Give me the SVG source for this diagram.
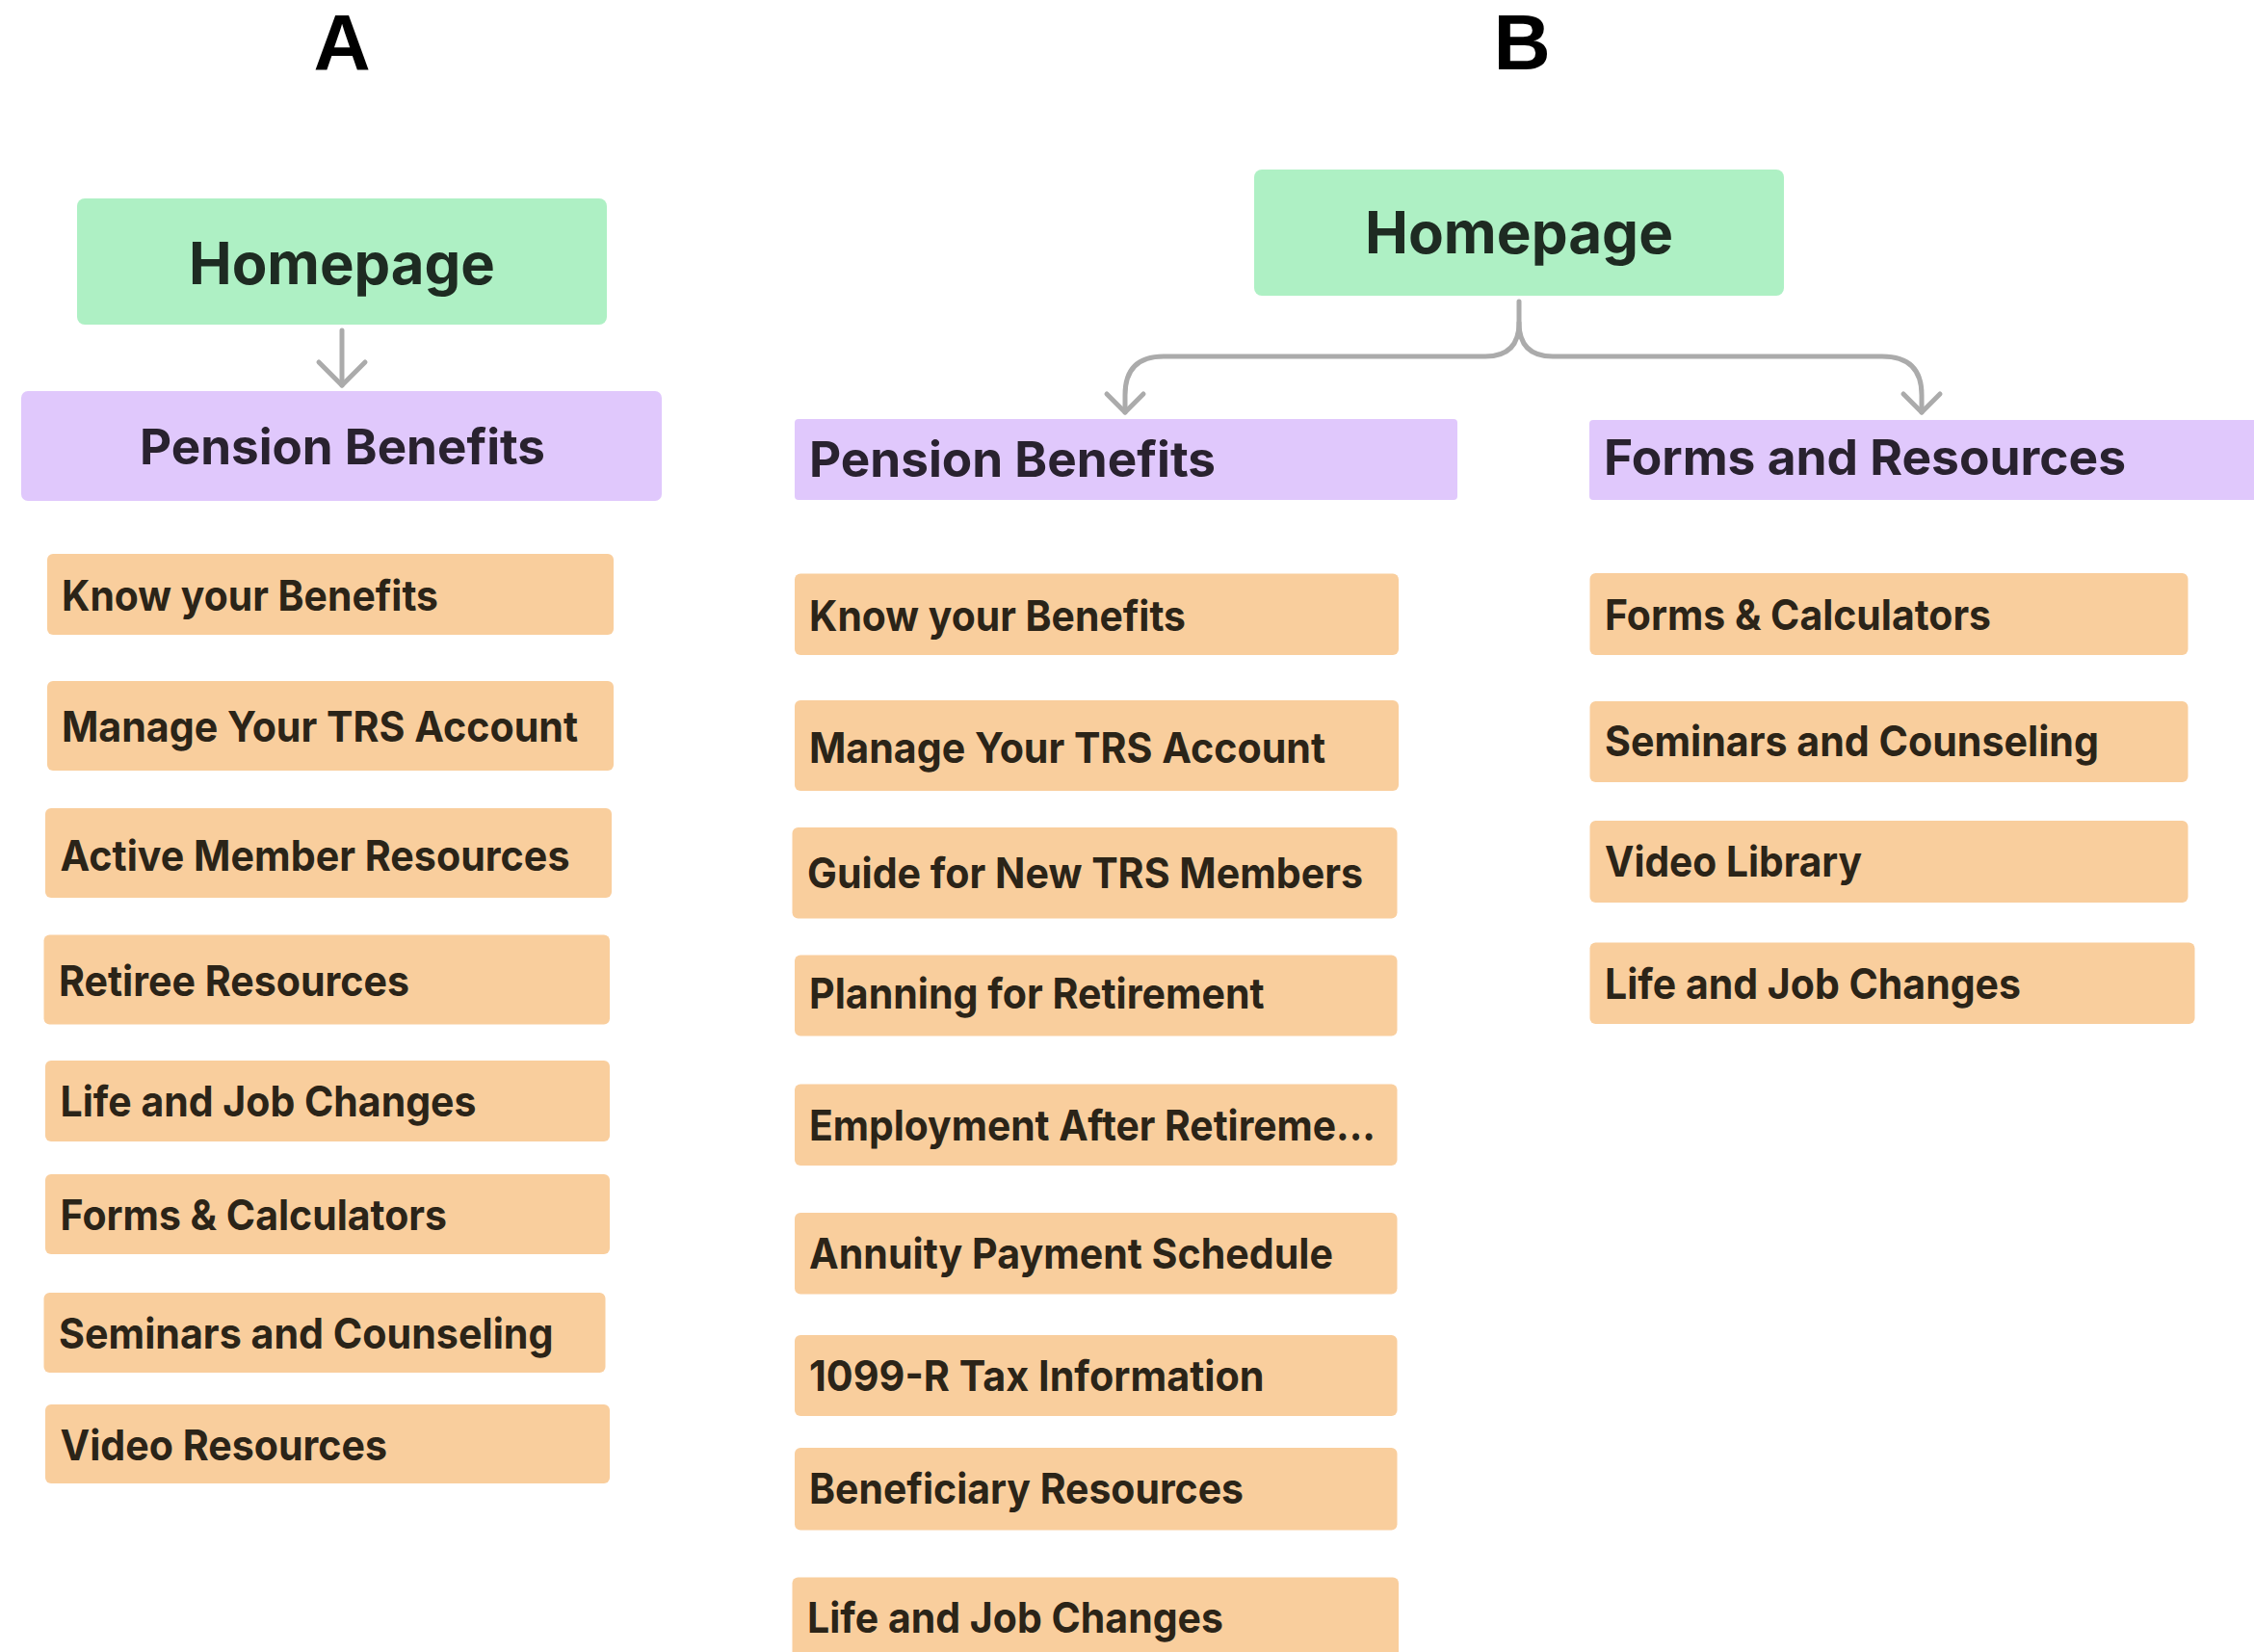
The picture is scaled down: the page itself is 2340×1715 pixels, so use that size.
<svg xmlns="http://www.w3.org/2000/svg" width="2340" height="1715" viewBox="0 0 2340 1715">
<defs>
<style>
.home{fill:#aef0c4}
.sec{fill:#e0c8fc}
.item{fill:#f9ce9d}
.t{font-family:Inter,"Liberation Sans",sans-serif;font-weight:700}
.th{font-size:60px;fill:#1e2b22}
.ts{font-size:51px;fill:#29222f}
.ti{font-size:44px;fill:#2b2418}
.lbl{font-family:"Liberation Sans",Arial,sans-serif;font-weight:700;font-size:82px;fill:#000;text-anchor:middle}
.conn{fill:none;stroke:#ababab;stroke-width:5;stroke-linecap:round;stroke-linejoin:round}
</style>
<marker id="chev" viewBox="-26 -26 30 52" markerWidth="30" markerHeight="52" refX="0" refY="0" markerUnits="userSpaceOnUse" orient="auto" overflow="visible">
<path d="M-19,-19 L0,0 L-19,19" fill="none" stroke="#ababab" stroke-width="5" stroke-linecap="round" stroke-linejoin="round"/>
</marker>
<marker id="chevL" viewBox="-30 -30 34 60" markerWidth="34" markerHeight="60" refX="0" refY="0" markerUnits="userSpaceOnUse" orient="auto" overflow="visible">
<path d="M-24,-24 L0,0 L-24,24" fill="none" stroke="#ababab" stroke-width="5" stroke-linecap="round" stroke-linejoin="round"/>
</marker>
</defs>
<rect width="2340" height="1715" fill="#ffffff"/>
<text class="lbl" x="355" y="72">A</text>
<text class="lbl" x="1580" y="72">B</text>

<g id="connectors">
<path class="conn" d="M355,343 L355,400" marker-end="url(#chevL)"/>
<path class="conn" d="M1577,313 L1577,335 Q1577,370 1542,370 L1208,370 Q1168,370 1168,410 L1168,428" marker-end="url(#chev)"/>
<path class="conn" d="M1577,335 Q1577,370 1612,370 L1954,370 Q1995,370 1995,410 L1995,428" marker-end="url(#chev)"/>
</g>

<g id="a-homepage"><rect class="home" x="80" y="206" width="550" height="131" rx="8"/><text class="t th" x="196" y="295" textLength="318" lengthAdjust="spacingAndGlyphs">Homepage</text></g>
<g id="a-pension"><rect class="sec" x="22" y="406" width="665" height="114" rx="7"/><text class="t ts" x="145" y="482" textLength="421" lengthAdjust="spacingAndGlyphs">Pension Benefits</text></g>
<g id="a-know"><rect class="item" x="49" y="575" width="588" height="84" rx="6"/><text class="t ti" x="64" y="634" textLength="391" lengthAdjust="spacingAndGlyphs">Know your Benefits</text></g>
<g id="a-manage"><rect class="item" x="49" y="707" width="588" height="93" rx="6"/><text class="t ti" x="64" y="770" textLength="536" lengthAdjust="spacingAndGlyphs">Manage Your TRS Account</text></g>
<g id="a-active"><rect class="item" x="47" y="839" width="588" height="93" rx="6"/><text class="t ti" x="62.5" y="903.5" textLength="529" lengthAdjust="spacingAndGlyphs">Active Member Resources</text></g>
<g id="a-retiree"><rect class="item" x="45.5" y="970.5" width="587.5" height="93" rx="6"/><text class="t ti" x="61" y="1034" textLength="364" lengthAdjust="spacingAndGlyphs">Retiree Resources</text></g>
<g id="a-life"><rect class="item" x="47" y="1101" width="586" height="84" rx="6"/><text class="t ti" x="62.5" y="1158.6" textLength="432" lengthAdjust="spacingAndGlyphs">Life and Job Changes</text></g>
<g id="a-forms"><rect class="item" x="47" y="1219" width="586" height="83" rx="6"/><text class="t ti" x="62.5" y="1276.6" textLength="401.5" lengthAdjust="spacingAndGlyphs">Forms &amp; Calculators</text></g>
<g id="a-seminars"><rect class="item" x="45.5" y="1342" width="583" height="83" rx="6"/><text class="t ti" x="61" y="1399.7" textLength="513.5" lengthAdjust="spacingAndGlyphs">Seminars and Counseling</text></g>
<g id="a-video"><rect class="item" x="47" y="1458" width="586" height="82" rx="6"/><text class="t ti" x="62.5" y="1515.8" textLength="339.5" lengthAdjust="spacingAndGlyphs">Video Resources</text></g>

<g id="b-homepage"><rect class="home" x="1302" y="176" width="550" height="131" rx="8"/><text class="t th" x="1417" y="263" textLength="320" lengthAdjust="spacingAndGlyphs">Homepage</text></g>
<g id="b-pension"><rect class="sec" x="825" y="435" width="688" height="84" rx="4"/><text class="t ts" x="840" y="495" textLength="422" lengthAdjust="spacingAndGlyphs">Pension Benefits</text></g>
<g id="b-forms-res"><rect class="sec" x="1650" y="436" width="695" height="83" rx="4"/><text class="t ts" x="1665" y="493" textLength="542" lengthAdjust="spacingAndGlyphs">Forms and Resources</text></g>

<g id="b-know"><rect class="item" x="825" y="595.5" width="627" height="84.5" rx="6"/><text class="t ti" x="840" y="654.5" textLength="391" lengthAdjust="spacingAndGlyphs">Know your Benefits</text></g>
<g id="b-manage"><rect class="item" x="825" y="727" width="627" height="94" rx="6"/><text class="t ti" x="840" y="791.5" textLength="536" lengthAdjust="spacingAndGlyphs">Manage Your TRS Account</text></g>
<g id="b-guide"><rect class="item" x="822.5" y="859" width="628" height="94.5" rx="6"/><text class="t ti" x="838" y="922" textLength="577" lengthAdjust="spacingAndGlyphs">Guide for New TRS Members</text></g>
<g id="b-planning"><rect class="item" x="825" y="991.5" width="625.5" height="84" rx="6"/><text class="t ti" x="840" y="1047" textLength="472.6" lengthAdjust="spacingAndGlyphs">Planning for Retirement</text></g>
<g id="b-employment"><rect class="item" x="825" y="1125.5" width="625.5" height="84.5" rx="6"/><text class="t ti" x="840" y="1183.6" textLength="588" lengthAdjust="spacingAndGlyphs">Employment After Retireme...</text></g>
<g id="b-annuity"><rect class="item" x="825" y="1259" width="625.5" height="84.5" rx="6"/><text class="t ti" x="840" y="1317" textLength="544" lengthAdjust="spacingAndGlyphs">Annuity Payment Schedule</text></g>
<g id="b-1099"><rect class="item" x="825" y="1386" width="625.5" height="84" rx="6"/><text class="t ti" x="840" y="1443.6" textLength="472.6" lengthAdjust="spacingAndGlyphs">1099-R Tax Information</text></g>
<g id="b-beneficiary"><rect class="item" x="825" y="1503" width="625.5" height="85.5" rx="6"/><text class="t ti" x="840" y="1561" textLength="451" lengthAdjust="spacingAndGlyphs">Beneficiary Resources</text></g>
<g id="b-life"><rect class="item" x="822.5" y="1637.4" width="629.5" height="90" rx="6"/><text class="t ti" x="838" y="1694.6" textLength="432" lengthAdjust="spacingAndGlyphs">Life and Job Changes</text></g>

<g id="b-forms-calc"><rect class="item" x="1650.5" y="595" width="621" height="85" rx="6"/><text class="t ti" x="1666" y="653.5" textLength="401" lengthAdjust="spacingAndGlyphs">Forms &amp; Calculators</text></g>
<g id="b-seminars"><rect class="item" x="1650.5" y="728" width="621" height="84" rx="6"/><text class="t ti" x="1666" y="785" textLength="513" lengthAdjust="spacingAndGlyphs">Seminars and Counseling</text></g>
<g id="b-video"><rect class="item" x="1650.5" y="852" width="621" height="85" rx="6"/><text class="t ti" x="1666" y="910" textLength="267" lengthAdjust="spacingAndGlyphs">Video Library</text></g>
<g id="b-life2"><rect class="item" x="1650.5" y="978.6" width="628" height="84.5" rx="6"/><text class="t ti" x="1666" y="1037" textLength="432" lengthAdjust="spacingAndGlyphs">Life and Job Changes</text></g>
</svg>
